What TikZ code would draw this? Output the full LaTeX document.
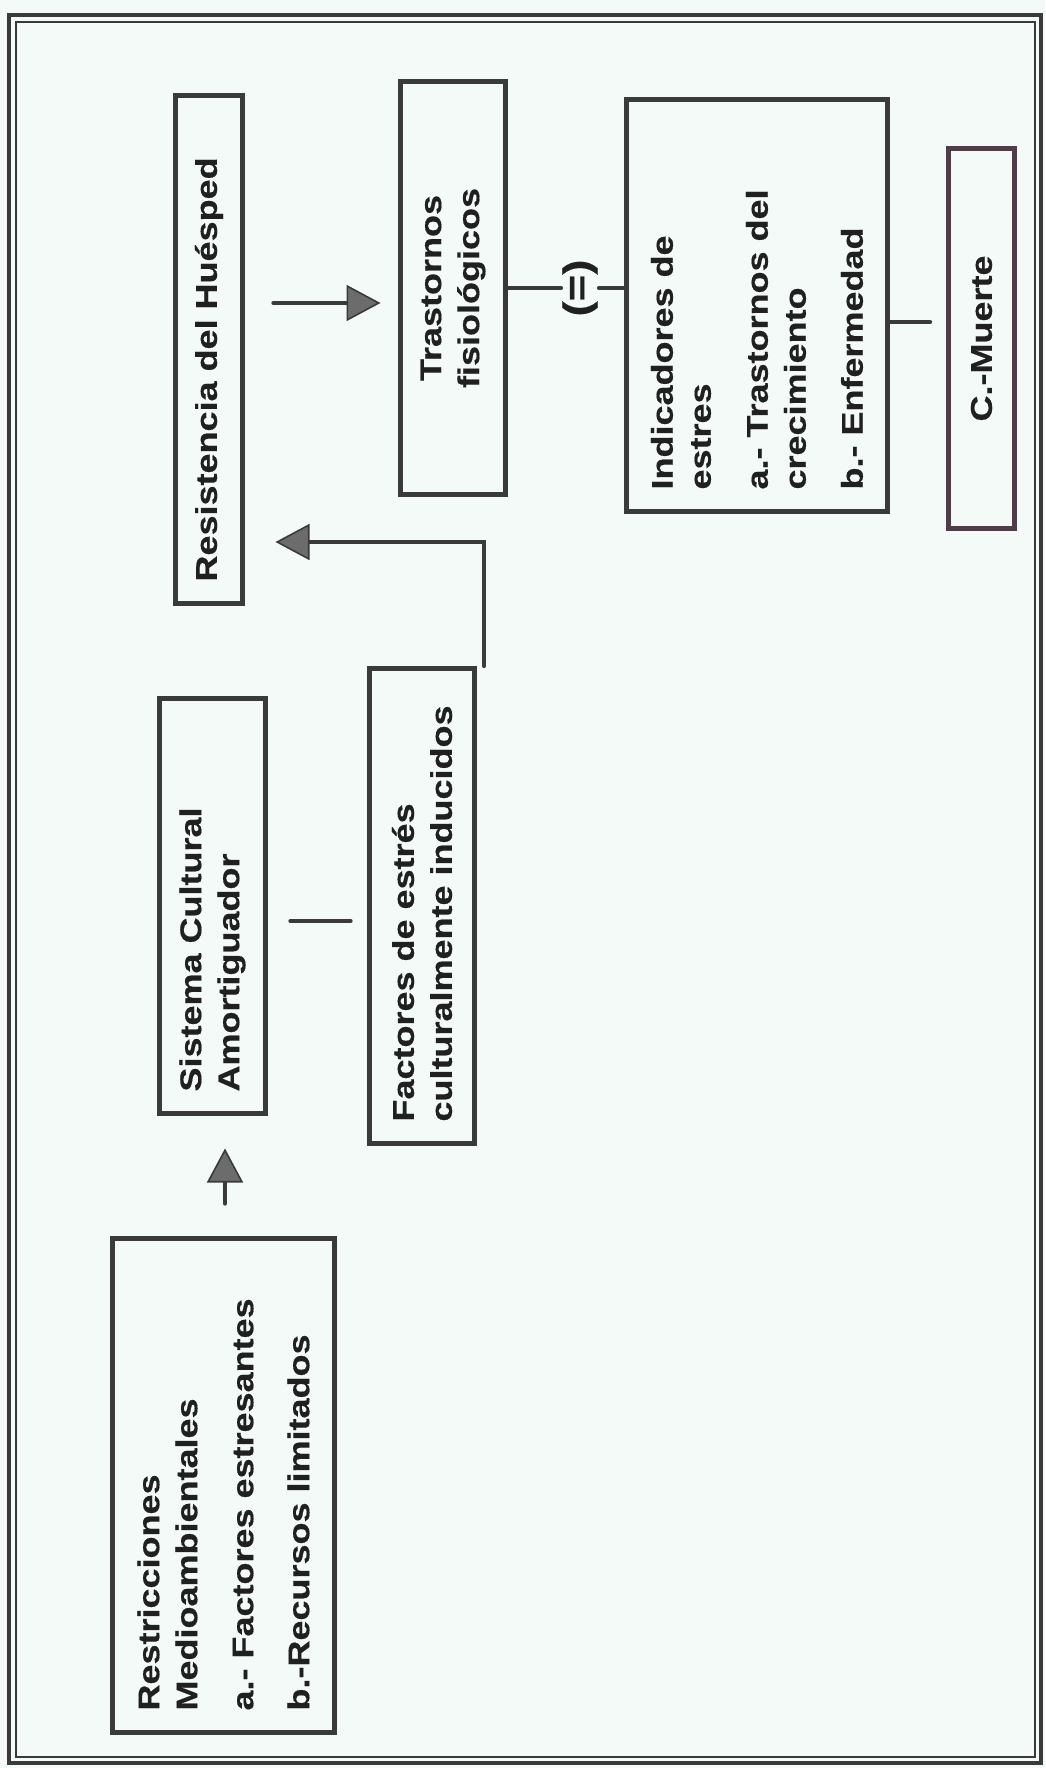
\documentclass[tikz,border=0pt]{standalone}
\usepackage{fontspec}
\newfontfamily\cajafont[FakeStretch=1.2,FakeBold=0.4]{Liberation Sans}
\usetikzlibrary{arrows.meta,calc,positioning}
\definecolor{fondo}{RGB}{243,250,248}
\definecolor{borde}{RGB}{58,58,58}
\definecolor{bordemu}{RGB}{78,60,72}
\definecolor{punta}{RGB}{108,108,108}
\definecolor{texto}{RGB}{32,32,32}
\begin{document}
\begin{tikzpicture}[x=0.5pt,y=-0.5pt,line join=round,line cap=round]
	\tikzset{every node/.style={font=\cajafont\bfseries\fontsize{15pt}{19pt}\selectfont,text=texto}}
	\tikzset{caja/.style={draw=borde,fill=fondo,line width=2.5pt,line join=miter,rotate=90,inner xsep=11pt,inner ysep=0pt,align=left}}
	\tikzset{linea/.style={draw=borde,line width=2.2pt}}
	\tikzset{flecha/.style={linea,-{Triangle[length=17pt,width=18pt,line width=0.8pt,fill=punta]}}}
	% fondo y marco
	\useasboundingbox (0,0) rectangle (1045,1768);
	\fill[fondo] (0,0) rectangle (1045,1768);
	\draw[borde,line width=1.8pt,line join=miter] (9,15) rectangle (1041,1763);
	\draw[borde,line width=0.6pt,line join=miter] (16,22) rectangle (1035,1757);
	% cajas
	\node[caja,minimum width=254pt,minimum height=33.5pt,text width=232pt] (resist) at (209,349.5) {Resistencia del Huésped};
	\node[caja,minimum width=206.5pt,minimum height=52.5pt,text width=184.5pt,align=center] (trast) at (453,288) {Trastornos\\fisiológicos};
	\node[caja,minimum width=206pt,minimum height=130.5pt,text width=184pt] (indic) at (757,305.5) {Indicadores de\\estres\\[9.5pt]a.- Trastornos del\\crecimiento\\[9.5pt]b.- Enfermedad};
	\node[caja,draw=bordemu,minimum width=190pt,minimum height=33pt,text width=168pt,align=center] (muerte) at (981.5,338.5) {C.-Muerte};
	\node[caja,minimum width=207.5pt,minimum height=53pt,text width=185.5pt] (sistema) at (212.5,906) {Sistema Cultural\\Amortiguador};
	\node[caja,minimum width=237.5pt,minimum height=52.5pt,text width=215.5pt] (factores) at (422,906) {Factores de estrés\\culturalmente inducidos};
	\node[caja,minimum width=247pt,minimum height=111pt,text width=225pt] (restric) at (223.5,1485.5) {Restricciones\\Medioambientales\\[9pt]a.- Factores estresantes\\[9pt]b.-Recursos limitados};
	\node[rotate=90,inner xsep=0pt,inner ysep=0.5pt,font=\cajafont\bfseries\fontsize{19pt}{22pt}\selectfont] (eq) at (580,288) {(=)};
	% conectores
	\draw[flecha] ($(resist.south)+(28.5,-46.5)$) -- ($(trast.north)+(-17.5,15)$);
	\draw[linea] (trast.south) -- (eq);
	\draw[linea] (eq) -- (eq -| indic.north);
	\draw[linea] ($(indic.south)+(0,16.5)$) -- ($(muerte.north)+(-16,-16.5)$);
	\draw[linea] ($(sistema.south)+(22.5,15)$) -- ($(factores.north)+(-16.5,15)$);
	\draw[flecha,line join=miter] ($(factores.south east)+(7,0)$) |- ($(resist.south)+(30.5,192.5)$);
	\draw[flecha] ($(restric.east)+(1.5,-32.5)$) -- ($(sistema.west)+(12.5,32.5)$);
\end{tikzpicture}
\end{document}
